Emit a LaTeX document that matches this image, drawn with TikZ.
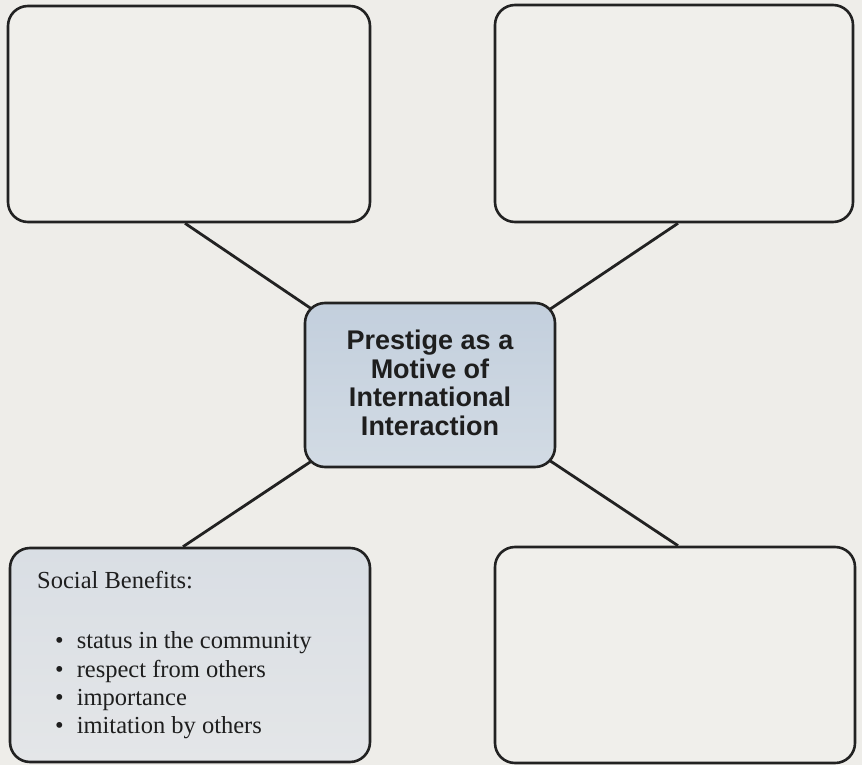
\documentclass[tikz,border=0pt]{standalone}
\usepackage{fontspec}
\setmainfont{Liberation Serif}
\newfontfamily\arialfont{Liberation Sans}
\usetikzlibrary{calc,backgrounds}
\definecolor{bgcol}{HTML}{EEEDE9}
\definecolor{boxcol}{HTML}{F0EFEB}
\definecolor{linecol}{HTML}{222222}
\definecolor{ctrtop}{HTML}{C3CFDD}
\definecolor{ctrbot}{HTML}{D2DBE4}
\definecolor{bltop}{HTML}{D9DEE4}
\definecolor{blbot}{HTML}{E4E6E8}
\definecolor{txtcol}{HTML}{1E1E1E}
\begin{document}
\begin{tikzpicture}[x=1pt,y=-1pt,
  box/.style={draw=linecol, line width=2.6pt, rounded corners=20pt, inner sep=0pt},
  conn/.style={draw=linecol, line width=2.8pt},
  bltext/.style={anchor=base west, inner sep=0pt, text=txtcol, font=\fontsize{24.5}{28.5}\selectfont}]
\useasboundingbox (0,0) rectangle (862,765);
\node[box, fill=boxcol, minimum width=362pt, minimum height=216pt] (tl) at (189,114) {};
\node[box, fill=boxcol, minimum width=358pt, minimum height=217pt] (tr) at (674,113.5) {};
\node[box, top color=bltop, bottom color=blbot, minimum width=360pt, minimum height=214pt] (bl) at (190,655) {};
\node[box, fill=boxcol, minimum width=360pt, minimum height=216pt] (br) at (675,655) {};
\node[box, top color=ctrtop, bottom color=ctrbot, minimum width=250pt, minimum height=164pt] (ctr) at (430,385) {};
\node[align=center, inner sep=0pt, text=txtcol, font=\arialfont\bfseries\fontsize{27}{28.5}\selectfont] (ctrtext) at (430,383)
  {Prestige as a\\Motive of\\International\\Interaction};
\node[bltext] (sb) at (37,588) {Social Benefits:};
\node[bltext] (b1) at (55,648) {\textbullet\hspace{13pt}status in the community};
\node[bltext] (b2) at (55,677) {\textbullet\hspace{13pt}respect from others};
\node[bltext] (b3) at (55,705) {\textbullet\hspace{13pt}importance};
\node[bltext] (b4) at (55,733) {\textbullet\hspace{13pt}imitation by others};
\begin{scope}[on background layer]
\fill[bgcol] (0,0) rectangle (862,765);
\draw[conn] ($(tl.south)+(-4,0)$) -- ($(ctr.north west)+(15,12)$);
\draw[conn] ($(tr.south)+(4,0)$) -- ($(ctr.north east)+(-13,12)$);
\draw[conn] ($(bl.north)+(-7,0)$) -- ($(ctr.south west)+(15,-12)$);
\draw[conn] ($(br.north)+(3,0)$) -- ($(ctr.south east)+(-13,-12)$);
\end{scope}
\end{tikzpicture}
\end{document}
